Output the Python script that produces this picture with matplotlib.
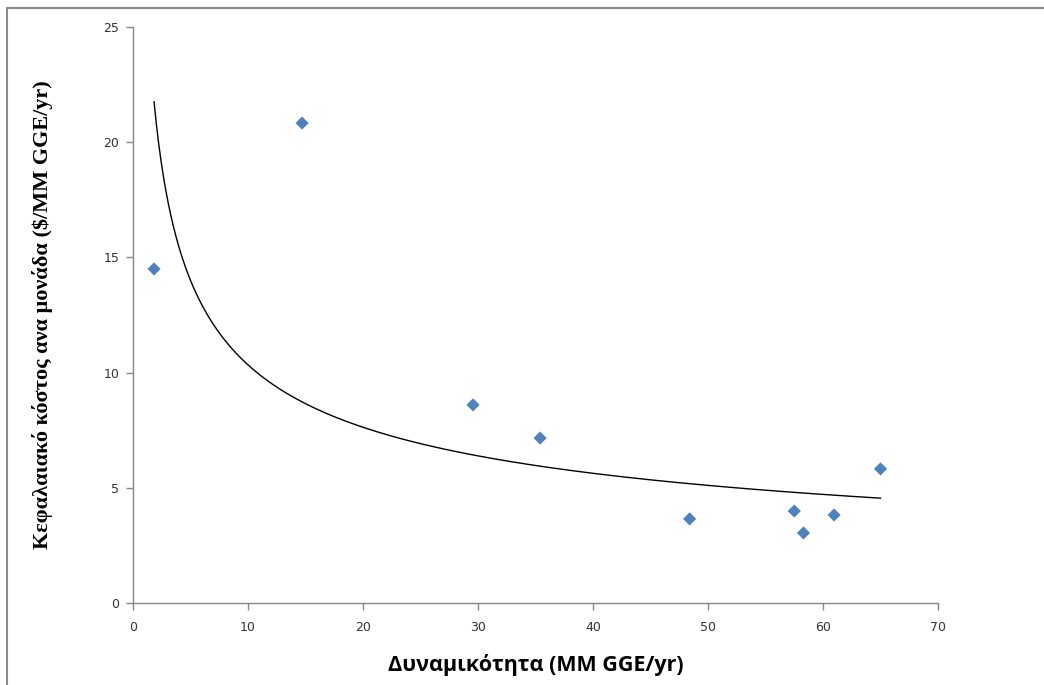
import numpy as np
import matplotlib
matplotlib.use("Agg")
import matplotlib.pyplot as plt
from matplotlib.patches import Rectangle

# Plant capacity (MM GGE/yr) and unit capital cost ($/MM GGE/yr)
capacity = [1.83, 14.7, 29.57, 35.4, 48.4, 57.5, 58.3, 60.96, 65.0]
unit_cost = [14.5, 20.83, 8.6, 7.16, 3.65, 3.99, 3.04, 3.82, 5.82]

x_ticks = [0, 10, 20, 30, 40, 50, 60, 70]
y_ticks = [0, 5, 10, 15, 20, 25]

# Power-law trendline y = a * x^b, fitted in log-log space
lx = np.log(capacity)
ly = np.log(unit_cost)
b, ln_a = np.polyfit(lx, ly, 1)
a = np.exp(ln_a)
xs = np.linspace(min(capacity), max(capacity), 300)
ys = a * xs ** b

fig = plt.figure(figsize=(10.44, 6.85), dpi=100)
ax = fig.add_axes([0.1274, 0.1197, 0.7711, 0.8409])

ax.plot(xs, ys, color="black", lw=1.0, zorder=2)
ax.scatter(capacity, unit_cost, marker="D", s=45, color="#4F81BD",
           edgecolors="none", zorder=3)

ax.set_xlim(0, 70)
ax.set_ylim(0, 25)
ax.set_xticks(x_ticks)
ax.set_yticks(y_ticks)

axis_grey = "#868686"
for side in ("top", "right"):
    ax.spines[side].set_visible(False)
for side in ("left", "bottom"):
    ax.spines[side].set_color(axis_grey)
    ax.spines[side].set_linewidth(1.0)
ax.tick_params(axis="both", direction="out", length=5, width=1.0,
               color=axis_grey, labelsize=9, labelcolor="#333333")
ax.tick_params(axis="x", pad=8)
ax.tick_params(axis="y", pad=5)

ax.set_xlabel("Δυναμικότητα (MM GGE/yr)", fontsize=15.5, fontweight="bold",
              family=["Open Sans", "DejaVu Sans"], labelpad=14)
ax.set_ylabel("Κεφαλαιακό κόστος ανα μονάδα ($/MM GGE/yr)", fontsize=16,
              fontweight="bold", family=["Liberation Serif", "DejaVu Serif"],
              labelpad=36)

# Frame around the chart area
fig.patches.append(Rectangle((7 / 1044, -0.01), 1.1, 1 - 8 / 685 + 0.01,
                             transform=fig.transFigure, fill=False,
                             edgecolor="#8C8C8C", lw=1.5))

fig.savefig("out.png", dpi=100)
